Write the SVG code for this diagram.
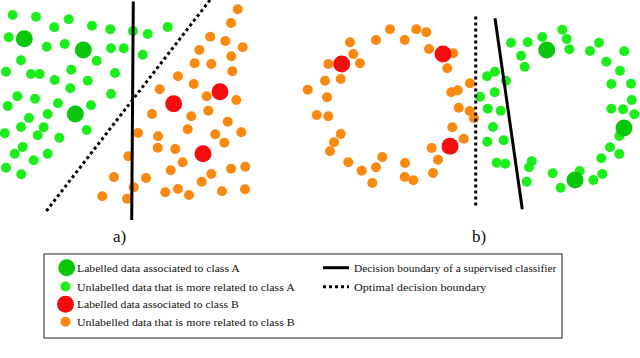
<svg xmlns="http://www.w3.org/2000/svg" width="640" height="358" viewBox="0 0 640 358">
<defs>
<style>
.g{fill:#1cee1c}
.G{fill:#0cc60c}
.o{fill:#fb880f}
.r{fill:#f50d0d}
.solid{stroke:#000;stroke-width:3;fill:none}
.dot{stroke:#000;stroke-width:3;fill:none;stroke-dasharray:3 3}
.lt{font-family:"Liberation Serif","DejaVu Serif",serif;font-size:11px;fill:#111}
.lab{font-family:"Liberation Serif","DejaVu Serif",serif;font-size:17px;fill:#111}
</style>
</defs>
<rect width="640" height="358" fill="#fff"/>
<g id="panel-a">
<g id="a-green">
<circle class="g" cx="12.7" cy="15" r="5"/><circle class="g" cx="36" cy="16.7" r="5"/><circle class="g" cx="54.3" cy="27.3" r="5"/><circle class="g" cx="68.7" cy="19.3" r="5"/><circle class="g" cx="92" cy="25.7" r="5"/><circle class="g" cx="110.3" cy="29.3" r="5"/><circle class="g" cx="133" cy="31" r="5"/><circle class="g" cx="147.7" cy="34" r="5"/><circle class="g" cx="167.7" cy="27" r="5"/><circle class="g" cx="8.7" cy="37.3" r="5"/><circle class="g" cx="46.7" cy="46.7" r="5"/><circle class="g" cx="64.7" cy="44" r="5"/><circle class="g" cx="111" cy="48.3" r="5"/><circle class="g" cx="123.7" cy="48.3" r="5"/><circle class="g" cx="142.7" cy="54.7" r="5"/><circle class="g" cx="21" cy="60.3" r="5"/><circle class="g" cx="96.7" cy="60.7" r="5"/><circle class="g" cx="6" cy="71.7" r="5"/><circle class="g" cx="31" cy="74" r="5"/><circle class="g" cx="39.7" cy="74" r="5"/><circle class="g" cx="71.3" cy="69.7" r="5"/><circle class="g" cx="54.7" cy="80" r="5"/><circle class="g" cx="87.7" cy="80.7" r="5"/><circle class="g" cx="115" cy="73" r="5"/><circle class="g" cx="70.3" cy="88.3" r="5"/><circle class="g" cx="111" cy="94" r="5"/><circle class="g" cx="17.3" cy="96.3" r="5"/><circle class="g" cx="35" cy="98.7" r="5"/><circle class="g" cx="7.7" cy="106" r="5"/><circle class="g" cx="58" cy="103.3" r="5"/><circle class="g" cx="91" cy="105.3" r="5"/><circle class="g" cx="47.7" cy="114" r="5"/><circle class="g" cx="29" cy="118" r="5"/><circle class="g" cx="21" cy="127" r="5"/><circle class="g" cx="43.7" cy="127.3" r="5"/><circle class="g" cx="4.7" cy="133.3" r="5"/><circle class="g" cx="37.7" cy="135.3" r="5"/><circle class="g" cx="59.3" cy="137.7" r="5"/><circle class="g" cx="86.7" cy="130" r="5"/><circle class="g" cx="22.7" cy="147" r="5"/><circle class="g" cx="14.7" cy="153.7" r="5"/><circle class="g" cx="47.7" cy="153.7" r="5"/><circle class="g" cx="33.7" cy="160.3" r="5"/><circle class="g" cx="6" cy="167.7" r="5"/><circle class="g" cx="21.3" cy="174.3" r="5"/>
<circle class="G" cx="24.3" cy="38.7" r="8.5"/><circle class="G" cx="83.3" cy="50" r="8.5"/><circle class="G" cx="75.3" cy="114" r="8.5"/>
</g>
<g id="a-orange">
<circle class="o" cx="237.7" cy="9.3" r="5"/><circle class="o" cx="231" cy="23" r="5"/><circle class="o" cx="210.3" cy="36.7" r="5"/><circle class="o" cx="225.3" cy="41" r="5"/><circle class="o" cx="242.7" cy="47.3" r="5"/><circle class="o" cx="199.3" cy="50" r="5"/><circle class="o" cx="231.3" cy="56.3" r="5"/><circle class="o" cx="194.7" cy="63.3" r="5"/><circle class="o" cx="211.3" cy="64" r="5"/><circle class="o" cx="232.3" cy="71.3" r="5"/><circle class="o" cx="178" cy="76.3" r="5"/><circle class="o" cx="193.7" cy="84" r="5"/><circle class="o" cx="159.7" cy="89.3" r="5"/><circle class="o" cx="206.7" cy="96.3" r="5"/><circle class="o" cx="236.3" cy="100" r="5"/><circle class="o" cx="152" cy="114" r="5"/><circle class="o" cx="191.3" cy="116.3" r="5"/><circle class="o" cx="208.3" cy="110.7" r="5"/><circle class="o" cx="227.7" cy="121.7" r="5"/><circle class="o" cx="187.7" cy="129.3" r="5"/><circle class="o" cx="138" cy="133" r="5"/><circle class="o" cx="158" cy="136.3" r="5"/><circle class="o" cx="215.3" cy="134.3" r="5"/><circle class="o" cx="241.3" cy="132.3" r="5"/><circle class="o" cx="224.3" cy="142.7" r="5"/><circle class="o" cx="157.7" cy="147.7" r="5"/><circle class="o" cx="175.3" cy="149" r="5"/><circle class="o" cx="128.3" cy="156.3" r="5"/><circle class="o" cx="182.7" cy="162.3" r="5"/><circle class="o" cx="170.7" cy="170.3" r="5"/><circle class="o" cx="211.3" cy="174" r="5"/><circle class="o" cx="231" cy="168.7" r="5"/><circle class="o" cx="245.3" cy="166.7" r="5"/><circle class="o" cx="114" cy="177" r="5"/><circle class="o" cx="146" cy="178" r="5"/><circle class="o" cx="201.7" cy="181.7" r="5"/><circle class="o" cx="133.7" cy="187.3" r="5"/><circle class="o" cx="178" cy="189" r="5"/><circle class="o" cx="165.3" cy="192.3" r="5"/><circle class="o" cx="189" cy="195" r="5"/><circle class="o" cx="222" cy="191.3" r="5"/><circle class="o" cx="245" cy="189.3" r="5"/><circle class="o" cx="102.3" cy="196.3" r="5"/><circle class="o" cx="127" cy="198.7" r="5"/>
<circle class="r" cx="173.7" cy="103.7" r="8.5"/><circle class="r" cx="220" cy="91.7" r="8.5"/><circle class="r" cx="203" cy="153.7" r="8.5"/>
</g>
<g id="a-boundaries">
<line class="dot" x1="210" y1="0" x2="45" y2="212.7"/>
<line class="solid" x1="133.3" y1="1.5" x2="131.7" y2="220"/>
</g>
<text class="lab" x="113" y="242">a)</text>
</g>
<g id="panel-b">
<g id="b-orange">
<circle class="o" cx="350" cy="42.3" r="5"/><circle class="o" cx="376" cy="40" r="5"/><circle class="o" cx="390" cy="29.3" r="5"/><circle class="o" cx="404.7" cy="40" r="5"/><circle class="o" cx="416.3" cy="29.3" r="5"/><circle class="o" cx="426.3" cy="32.3" r="5"/><circle class="o" cx="429" cy="49" r="5"/><circle class="o" cx="453.3" cy="53.3" r="5"/><circle class="o" cx="447.3" cy="68.3" r="5"/><circle class="o" cx="353.3" cy="54" r="5"/><circle class="o" cx="328.3" cy="64" r="5"/><circle class="o" cx="360" cy="63.3" r="5"/><circle class="o" cx="340.7" cy="79" r="5"/><circle class="o" cx="325" cy="80.7" r="5"/><circle class="o" cx="307.7" cy="89.7" r="5"/><circle class="o" cx="327" cy="97.3" r="5"/><circle class="o" cx="316.7" cy="115" r="5"/><circle class="o" cx="328.3" cy="116.3" r="5"/><circle class="o" cx="470" cy="83.3" r="5"/><circle class="o" cx="451.3" cy="92.3" r="5"/><circle class="o" cx="457.7" cy="90.3" r="5"/><circle class="o" cx="458.7" cy="107.7" r="5"/><circle class="o" cx="469.7" cy="111" r="5"/><circle class="o" cx="474" cy="118.3" r="5"/><circle class="o" cx="452.3" cy="127.3" r="5"/><circle class="o" cx="340.7" cy="134" r="5"/><circle class="o" cx="334" cy="142.3" r="5"/><circle class="o" cx="330" cy="151.3" r="5"/><circle class="o" cx="463.7" cy="138.7" r="5"/><circle class="o" cx="431.7" cy="148" r="5"/><circle class="o" cx="438" cy="159.7" r="5"/><circle class="o" cx="382.3" cy="157" r="5"/><circle class="o" cx="348.3" cy="162.3" r="5"/><circle class="o" cx="376" cy="167.3" r="5"/><circle class="o" cx="405" cy="163" r="5"/><circle class="o" cx="361.7" cy="170.7" r="5"/><circle class="o" cx="404.7" cy="177" r="5"/><circle class="o" cx="413.3" cy="180.3" r="5"/><circle class="o" cx="433" cy="173" r="5"/><circle class="o" cx="372.3" cy="183" r="5"/>
<circle class="r" cx="341.7" cy="64" r="8.5"/><circle class="r" cx="443" cy="54" r="8.5"/><circle class="r" cx="450" cy="146.3" r="8.5"/>
</g>
<g id="b-green">
<circle class="g" cx="511" cy="42.7" r="5"/><circle class="g" cx="527.7" cy="42.3" r="5"/><circle class="g" cx="542.3" cy="37" r="5"/><circle class="g" cx="562.3" cy="29.7" r="5"/><circle class="g" cx="566.7" cy="39" r="5"/><circle class="g" cx="569.3" cy="49.3" r="5"/><circle class="g" cx="521" cy="55.7" r="5"/><circle class="g" cx="524.7" cy="66.7" r="5"/><circle class="g" cx="590" cy="51" r="5"/><circle class="g" cx="599" cy="42.7" r="5"/><circle class="g" cx="624.3" cy="51.3" r="5"/><circle class="g" cx="606.3" cy="61.7" r="5"/><circle class="g" cx="620" cy="70.7" r="5"/><circle class="g" cx="611.3" cy="84" r="5"/><circle class="g" cx="631" cy="83.7" r="5"/><circle class="g" cx="631.7" cy="100" r="5"/><circle class="g" cx="611.3" cy="108.7" r="5"/><circle class="g" cx="623" cy="109.3" r="5"/><circle class="g" cx="634.3" cy="114.3" r="5"/><circle class="g" cx="619.3" cy="136" r="5"/><circle class="g" cx="610" cy="147.3" r="5"/><circle class="g" cx="619.3" cy="154" r="5"/><circle class="g" cx="601.3" cy="158.3" r="5"/><circle class="g" cx="602.3" cy="174" r="5"/><circle class="g" cx="593.3" cy="180" r="5"/><circle class="g" cx="579.7" cy="171" r="5"/><circle class="g" cx="552.7" cy="173.3" r="5"/><circle class="g" cx="560.7" cy="187.7" r="5"/><circle class="g" cx="526.7" cy="181.7" r="5"/><circle class="g" cx="529" cy="167.3" r="5"/><circle class="g" cx="531.7" cy="161.3" r="5"/><circle class="g" cx="496.7" cy="162.7" r="5"/><circle class="g" cx="505.3" cy="163.7" r="5"/><circle class="g" cx="487.3" cy="141.7" r="5"/><circle class="g" cx="503.7" cy="140.3" r="5"/><circle class="g" cx="493" cy="127" r="5"/><circle class="g" cx="487.7" cy="108.7" r="5"/><circle class="g" cx="500.7" cy="110.7" r="5"/><circle class="g" cx="480" cy="96.7" r="5"/><circle class="g" cx="494.7" cy="92.3" r="5"/><circle class="g" cx="487" cy="76.3" r="5"/><circle class="g" cx="495" cy="71.7" r="5"/><circle class="g" cx="506" cy="80.7" r="5"/>
<circle class="G" cx="546.7" cy="50" r="8.5"/><circle class="G" cx="624" cy="128" r="8.5"/><circle class="G" cx="575" cy="180" r="8.5"/>
</g>
<g id="b-boundaries">
<line class="dot" x1="475.7" y1="16.5" x2="475.7" y2="207"/>
<line class="solid" x1="495" y1="18.3" x2="522.3" y2="209.3"/>
</g>
<text class="lab" x="472" y="242">b)</text>
</g>
<g id="legend">
<rect x="44" y="254" width="518" height="84" fill="#fff" stroke="#222" stroke-width="1"/>
<circle class="G" cx="66.7" cy="267.7" r="8.5"/>
<text class="lt" x="77" y="271.5" textLength="162.7" lengthAdjust="spacingAndGlyphs">Labelled data associated to class A</text>
<circle class="g" cx="65.5" cy="286.5" r="5"/>
<text class="lt" x="77" y="290.5" textLength="217.7" lengthAdjust="spacingAndGlyphs">Unlabelled data that is more related to class A</text>
<circle class="r" cx="65.5" cy="304.3" r="8.5"/>
<text class="lt" x="77" y="308" textLength="161.7" lengthAdjust="spacingAndGlyphs">Labelled data associated to class B</text>
<circle class="o" cx="65.5" cy="321.7" r="5"/>
<text class="lt" x="77" y="325.5" textLength="217.7" lengthAdjust="spacingAndGlyphs">Unlabelled data that is more related to class B</text>
<line class="solid" x1="323" y1="267.7" x2="349" y2="267.7"/>
<text class="lt" x="354" y="271.5" textLength="202.3" lengthAdjust="spacingAndGlyphs">Decision boundary of a supervised classifier</text>
<line class="dot" x1="323" y1="286.7" x2="349" y2="286.7"/>
<text class="lt" x="354" y="290.5" textLength="132.3" lengthAdjust="spacingAndGlyphs">Optimal decision boundary</text>
</g>
</svg>
